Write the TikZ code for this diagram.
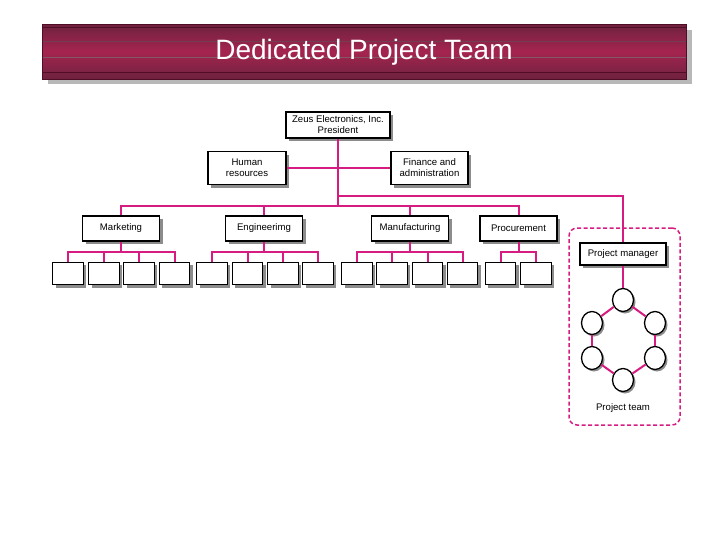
\documentclass[tikz,border=0pt]{standalone}
\usepackage{fontspec}
\setmainfont{Liberation Sans}
\usetikzlibrary{shadows,shapes.geometric}
\definecolor{pinkline}{RGB}{214,28,128}
\definecolor{bandtop}{RGB}{110,34,62}
\definecolor{bandmid}{RGB}{165,36,80}
\definecolor{banddark}{RGB}{80,14,38}
\begin{document}
\begin{tikzpicture}[x=1pt,y=1pt,
  box/.style={draw=black, line width=1.1pt, fill=white, inner sep=0pt, align=center,
    font=\fontsize{9.6}{11}\selectfont,
    drop shadow={shadow xshift=3pt, shadow yshift=-3pt, fill=black!45, opacity=1}},
  subbox/.style={box, minimum width=30.5pt, minimum height=22.5pt},
  dept/.style={box, minimum width=77pt, minimum height=25pt},
  member/.style={ellipse, draw=black, line width=1.3pt, fill=white, inner sep=0pt,
    minimum width=21pt, minimum height=23pt,
    drop shadow={shadow xshift=2pt, shadow yshift=-2pt, fill=black!45, opacity=1}},
  teambox/.style={draw=pinkline, line width=1.5pt, dash pattern=on 4pt off 2.5pt,
    rounded corners=8pt, inner sep=0pt},
  conn/.style={draw=pinkline, line width=2pt},
  titletext/.style={font=\fontsize{28}{32}\selectfont, inner sep=0pt}
]
\useasboundingbox (0,0) rectangle (728,-546);
% title banner
\fill[black!28] (48,-30) rectangle (692,-84);
\shade[top color=bandtop, bottom color=bandtop, middle color=bandmid] (42,-24) rectangle (686,-79);
\draw[banddark, line width=0.8pt] (42,-27.5) -- (686,-27.5);
\draw[banddark!80, line width=0.5pt] (42,-41) -- (686,-41);
\draw[banddark!70, line width=0.6pt] (42,-57) -- (686,-57);
\draw[banddark, line width=0.8pt] (42,-72) -- (686,-72);
\draw[banddark, line width=0.6pt] (42,-24) rectangle (686,-79);
\node[titletext, text=white] (title) at (364,-52) {Dedicated Project Team};

% project team frame
\node[teambox, minimum width=111pt, minimum height=197pt] (team) at (624.5,-326.5) {};

% main boxes
\node[box, minimum width=104pt, minimum height=26pt] (pres) at (338,-125) {Zeus Electronics, Inc.\\President};
\node[box, minimum width=78pt, minimum height=33pt] (hr) at (247,-168) {Human\\resources};
\node[box, minimum width=77pt, minimum height=33pt] (fin) at (429.5,-168) {Finance and\\administration};
\node[dept] (mkt) at (121,-228.5) {Marketing};
\node[dept] (eng) at (264,-228.5) {Engineerimg};
\node[dept] (man) at (410,-228.5) {Manufacturing};
\node[dept] (pro) at (518.5,-228.5) {Procurement};
\node[box, minimum width=86pt, minimum height=22pt] (pm) at (623,-254) {Project manager};

% sub boxes
\foreach \n/\x in {m1/68,m2/104,m3/139,m4/174.5,
                   e1/212,e2/247.5,e3/283,e4/318,
                   f1/357,f2/392,f3/427.5,f4/462.5,
                   p1/500.5,p2/536}
  \node[subbox] (\n) at (\x,-273.5) {};

% team members
\node[member] (c1) at (623,-300) {};
\node[member] (c2) at (655,-323) {};
\node[member] (c3) at (655,-358) {};
\node[member] (c4) at (623,-380) {};
\node[member] (c5) at (592,-358) {};
\node[member] (c6) at (592,-323) {};
\node[font=\fontsize{9.6}{11}\selectfont, inner sep=0pt] (teamlbl) at (623,-408) {Project team};

% junctions
\coordinate (bus) at (338,-206);
\coordinate (tap) at (338,-196);
\coordinate (sb) at (0,-252);

% connectors
\draw[conn] (pres.south) -- (bus);
\draw[conn] (hr.east) -- (fin.west);
\draw[conn] (mkt.north) |- (bus) -| (pro.north);
\draw[conn] (eng.north) -- (eng.north |- bus);
\draw[conn] (man.north) -- (man.north |- bus);
\draw[conn] (tap) -| (pm.north);

\foreach \d/\a/\b/\mids in {mkt/m1/m4/{m2,m3}, eng/e1/e4/{e2,e3}, man/f1/f4/{f2,f3}, pro/p1/p2/{}}{
  \draw[conn] (\d.south) -- (\d.south |- sb);
  \draw[conn] (\a.north) -- (\a.north |- sb) -- (\b.north |- sb) -- (\b.north);
  \foreach \mm in \mids {\draw[conn] (\mm.north) -- (\mm.north |- sb);}
}

\draw[conn] (pm.south) -- (c1);
\draw[conn] (c1) -- (c2);
\draw[conn] (c2) -- (c3);
\draw[conn] (c3) -- (c4);
\draw[conn] (c4) -- (c5);
\draw[conn] (c5) -- (c6);
\draw[conn] (c6) -- (c1);
\end{tikzpicture}
\end{document}
